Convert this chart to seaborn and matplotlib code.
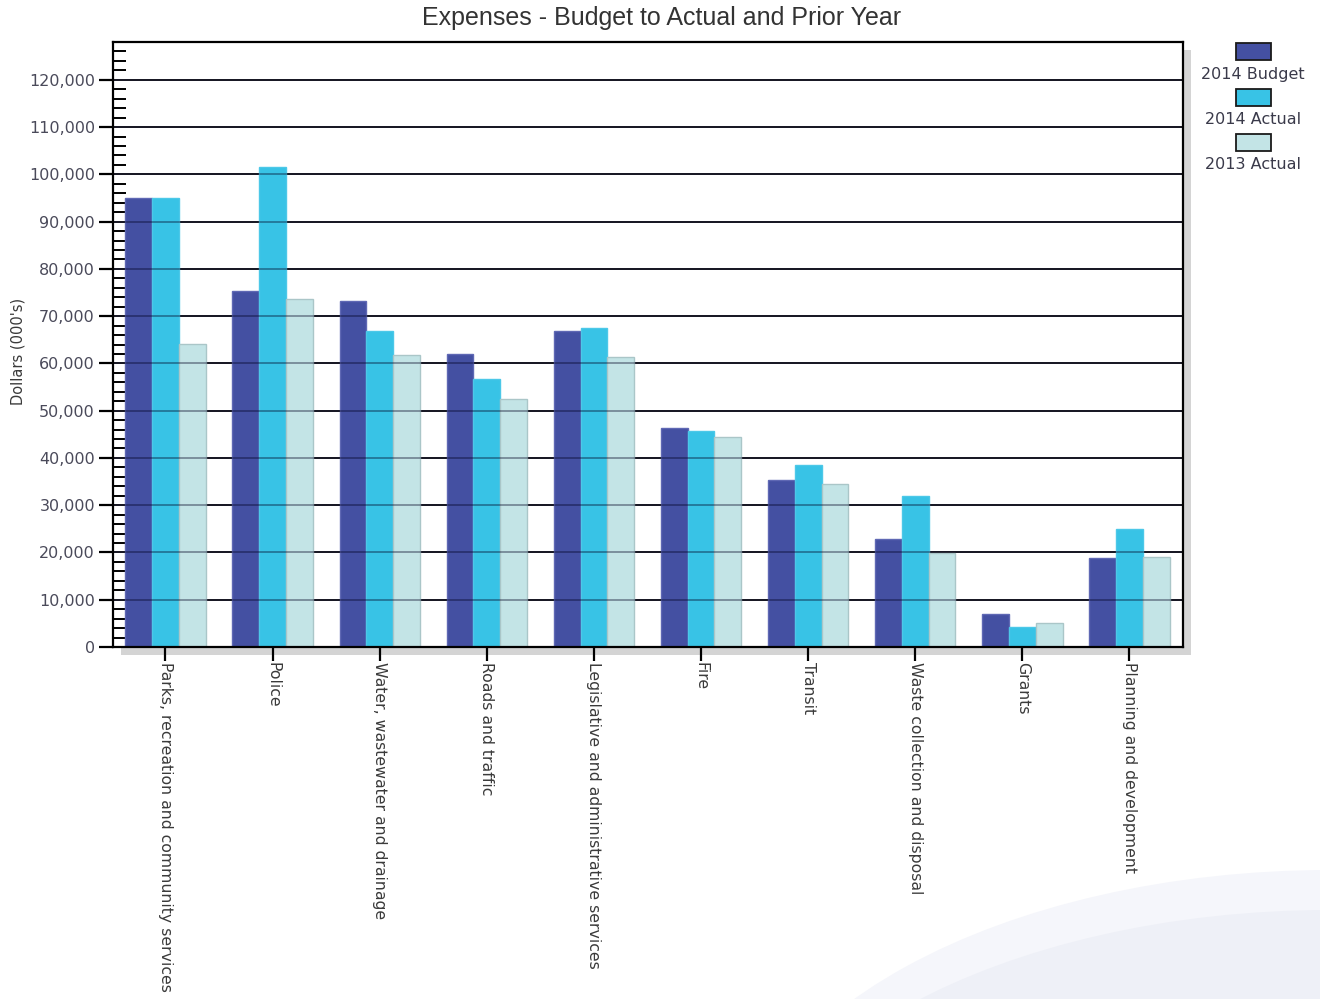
import matplotlib
matplotlib.use("Agg")
import matplotlib.pyplot as plt
import matplotlib.patches as mpatches
from matplotlib.ticker import MultipleLocator, FuncFormatter
import matplotlib.transforms as mtransforms
import numpy as np
import pandas as pd
import seaborn as sns

categories = [
    "Parks, recreation and community services",
    "Police",
    "Water, wastewater and drainage",
    "Roads and traffic",
    "Legislative and administrative services",
    "Fire",
    "Transit",
    "Waste collection and disposal",
    "Grants",
    "Planning and development",
]
series_names = ["2014 Budget", "2014 Actual", "2013 Actual"]
budget_2014 = [94900, 75400, 73300, 61900, 66800, 46300, 35300, 22800, 7000, 18800]
actual_2014 = [94900, 101600, 66800, 56800, 67400, 45800, 38500, 31900, 4200, 24900]
actual_2013 = [64200, 73700, 61700, 52400, 61300, 44400, 34400, 19900, 5100, 19000]
colors = ["#4450A2", "#38C3E6", "#C3E4E6"]
edge_colors = ["#5f68b4", "#4cc8e8", "#aac6c8"]

df = pd.DataFrame({
    "category": categories * 3,
    "series": np.repeat(series_names, len(categories)),
    "value": budget_2014 + actual_2014 + actual_2013,
})

sns.set_theme(style="white")
plt.rcParams["font.family"] = ["DejaVu Sans"]

W, H = 1320, 999
fig = plt.figure(figsize=(W / 100, H / 100), dpi=100)
fig.patch.set_facecolor("white")

# soft backdrop swoosh in the lower right corner
for k, (col, dy) in enumerate([("#f5f6fb", 0), ("#eef0f7", 40)]):
    swoosh = mpatches.Ellipse((1330 / W, 1 - (1200 + dy) / H), 1200 / W, 660 / H,
                              transform=fig.transFigure, facecolor=col,
                              edgecolor="none", zorder=-20 + k)
    fig.patches.append(swoosh)

ax = fig.add_axes([113 / W, 1 - 647 / H, 1070 / W, 605 / H])

# drop shadow behind the plot frame
shadow = mpatches.Rectangle(
    (0, 0), 1, 1,
    transform=ax.transAxes + mtransforms.ScaledTranslation(0.08, -0.08, fig.dpi_scale_trans),
    facecolor="#d4d4d4", edgecolor="none", zorder=-10, clip_on=False)
fig.patches.append(shadow)

sns.barplot(data=df, x="category", y="value", hue="series", hue_order=series_names,
            palette=colors, width=0.75, saturation=1, ax=ax, legend=False,
            errorbar=None, zorder=2)
for cont, ec in zip(ax.containers, edge_colors):
    for bar in cont:
        bar.set_edgecolor(ec)
        bar.set_linewidth(1.0)

ax.set_facecolor("white")
ax.set_xlim(-0.49, 9.5)
ax.set_ylim(0, 128000)
ax.yaxis.set_major_locator(MultipleLocator(10000))
ax.yaxis.set_minor_locator(MultipleLocator(2000))
ax.yaxis.set_major_formatter(FuncFormatter(lambda v, p: f"{int(v):,}"))
ax.grid(axis="y", which="major", color="#111111", linewidth=1.3)
ax.set_axisbelow(True)
# gridlines show faintly through the bars
for v in range(10000, 128000, 10000):
    ax.axhline(v, color="#000020", linewidth=1.3, alpha=0.4, zorder=3)

for s in ax.spines.values():
    s.set_color("black")
    s.set_linewidth(1.6)
    s.set_zorder(4)

ax.tick_params(axis="y", which="major", direction="out", length=10, width=1.6,
               color="black", labelsize=11.5, labelcolor="#4a4a5a", pad=3, left=True)
ax.tick_params(axis="y", which="minor", direction="in", length=9, width=1.4,
               color="black", left=True)
ax.tick_params(axis="x", which="major", direction="inout", length=20, width=1.6,
               color="black", labelsize=11.3, labelcolor="#3a3a3a", pad=1, bottom=True)
ax.set_xticks(range(len(categories)))
ax.set_xticklabels(categories, rotation=-90, ha="center", va="top")

ax.set_xlabel("")
ax.set_ylabel("")
fig.text(18 / W, 1 - 351 / H, "Dollars (000's)", rotation=90, ha="center", va="center",
         fontsize=10.5, color="#3a3a3a")
fig.text(662 / W, 1 - 18 / H, "Expenses - Budget to Actual and Prior Year",
         ha="center", va="center", fontsize=18, color="#333333",
         family=["Liberation Sans", "DejaVu Sans"])

# legend: swatch above each label
lx = 1253 / W
for i, (name, col) in enumerate(zip(series_names, colors)):
    ytop = 1 - (43 + i * 45.5) / H
    sw = mpatches.Rectangle((lx - 17.5 / W, ytop - 17 / H), 35 / W, 17 / H,
                            transform=fig.transFigure, facecolor=col, edgecolor="#1a1a1a",
                            linewidth=1.3)
    fig.patches.append(sw)
    fig.text(lx, 1 - (75 + i * 45) / H, name, ha="center", va="center",
             fontsize=11.5, color="#3a3a4a")

fig.savefig("out.png", dpi=100, facecolor="white")
